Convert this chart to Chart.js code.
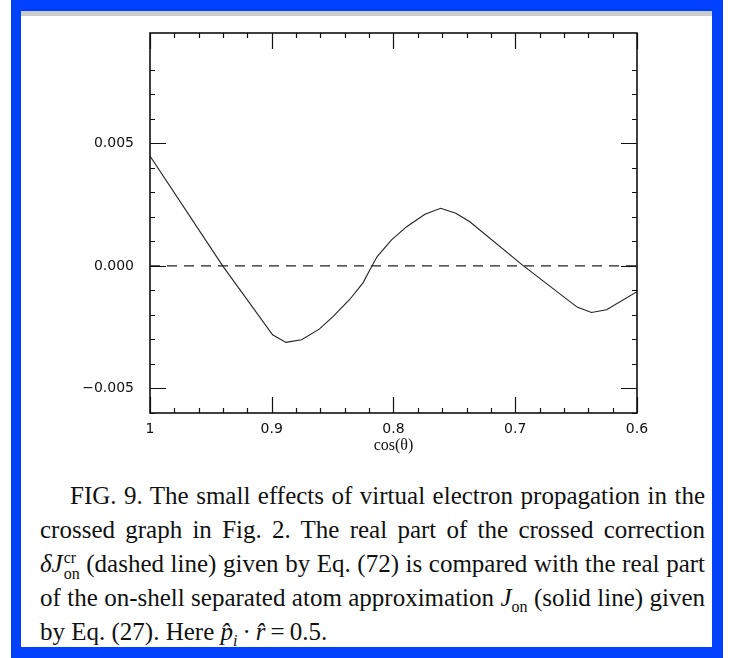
<!DOCTYPE html>
<html>
<head>
<meta charset="utf-8">
<script src="https://cdn.jsdelivr.net/npm/chart.js@4.4.0/dist/chart.umd.min.js"></script>
<style>
    html, body { margin: 0; padding: 0; background: #fff; }
    body { width: 735px; height: 658px; position: relative; overflow: hidden; }
    #frame { position: absolute; left: 11px; top: 0; width: 712px; height: 658px; background: #0040ff; }
    #panel { position: absolute; left: 21px; top: 11px; width: 691px; height: 631px; background: #fff; border-top: 5px solid #cccccc; }
    #chartBox { position: absolute; left: 40px; top: 20px; width: 620px; height: 440px; }
    #caption {
        position: absolute; left: 40px; top: 479px; width: 665px;
        font-family: "Liberation Serif", "Times New Roman", serif;
        font-size: 25px; line-height: 34px; color: #111;
    }
    .line { height: 34px; overflow: visible; text-align: justify; text-align-last: justify; word-spacing: -3px; }
    .line.first { text-indent: 30px; }
    .line.last { text-align: left; text-align-last: left; word-spacing: 0; }
    .it { font-style: italic; }
    .stack { display: inline-block; position: relative; width: 17px; height: 1px; text-indent: 0; }
    .stack span { position: absolute; left: 1px; font-size: 16px; line-height: 16px; word-spacing: 0; }
    .stack .sup { top: -21px; }
    .stack .lo { top: -5px; }
    .sub { font-size: 16px; position: relative; top: 6px; }
</style>
</head>
<body>
<div id="frame"></div>
<div id="panel"></div>
<div id="chartBox"><canvas id="chart"></canvas></div>
<div id="caption">
    <div class="line first">FIG. 9. The small effects of virtual electron propagation in the</div>
    <div class="line">crossed graph in Fig. 2. The real part of the crossed correction</div>
    <div class="line"><span class="it">&delta;J</span><span class="stack"><span class="sup">cr</span><span class="lo">on</span></span> (dashed line) given by Eq. (72) is compared with the real part</div>
    <div class="line">of the on-shell separated atom approximation <span class="it">J</span><span class="sub">on</span> (solid line) given</div>
    <div class="line last">by Eq. (27). Here <span class="it">p&#770;</span><span class="sub it">i</span>&thinsp;&middot;&thinsp;<span class="it">r&#770;</span>&thinsp;=&thinsp;0.5.</div>
</div>
<script>
// real part of J_on (solid line)
const cosTheta = [1.000, 0.9403, 0.8993, 0.8883, 0.8755, 0.8610, 0.8495, 0.8358, 0.8249, 0.8194, 0.8134,
    0.8016, 0.7892, 0.7742, 0.7613, 0.7488, 0.7373, 0.6935, 0.6492, 0.6374, 0.6250, 0.6000];
const jOn = [0.00448, 0.0, -0.00281, -0.00312, -0.00301, -0.00258, -0.00206, -0.00136, -0.00068, -0.00016, 0.00038,
    0.00106, 0.00160, 0.00211, 0.00235, 0.00215, 0.00180, 0.00001, -0.00168, -0.00190, -0.00179, -0.00105];

// crossed correction (dashed line)
const crossCos = [1.0, 0.6];
const crossCorr = [0.0, 0.0];

const xLabelValues = [1, 0.9, 0.8, 0.7, 0.6];
const xLabelText = ['1', '0.9', '0.8', '0.7', '0.6'];
const yLabelValues = [0.005, 0, -0.005];
const yLabelText = ['0.005', '0.000', '\u22120.005'];

function near(a, b) {
    return Math.abs(a - b) < 1e-7;
}

function isMultiple(v, step) {
    const r = v / step;
    return Math.abs(r - Math.round(r)) < 1e-6;
}

function labelFor(value, values, texts) {
    const i = values.findIndex(v => near(v, value));
    return i >= 0 ? texts[i] : '';
}

// tick marks point into the plot, on all four sides, plus the box itself
const innerTicks = {
    id: 'innerTicks',
    afterDatasetsDraw(chart) {
        const { ctx, chartArea: a, scales: { x, y } } = chart;
        ctx.save();
        ctx.strokeStyle = '#111';
        ctx.lineWidth = 1.2;
        ctx.beginPath();
        x.ticks.forEach(t => {
            if (!isMultiple(t.value, 0.02)) return;
            const px = Math.round(x.getPixelForValue(t.value)) + 0.5;
            const len = isMultiple(t.value, 0.1) ? 16 : 5;
            ctx.moveTo(px, a.bottom);
            ctx.lineTo(px, a.bottom - len);
            ctx.moveTo(px, a.top);
            ctx.lineTo(px, a.top + len);
        });
        y.ticks.forEach(t => {
            if (!isMultiple(t.value, 0.001)) return;
            const py = Math.round(y.getPixelForValue(t.value)) + 0.5;
            const len = isMultiple(t.value, 0.005) ? 16 : 5;
            ctx.moveTo(a.left, py);
            ctx.lineTo(a.left + len, py);
            ctx.moveTo(a.right, py);
            ctx.lineTo(a.right - len, py);
        });
        ctx.stroke();
        ctx.lineWidth = 1.6;
        ctx.strokeRect(a.left, a.top, a.width, a.height);
        ctx.restore();
    }
};

const ctx = document.getElementById('chart').getContext('2d');

const chart = new Chart(ctx, {
    type: 'line',
    data: {
        datasets: [{
            label: 'J_on',
            data: cosTheta.map((c, i) => ({ x: c, y: jOn[i] })),
            borderColor: '#222',
            borderWidth: 1.1,
            pointRadius: 0,
            tension: 0,
            fill: false
        }, {
            label: 'delta J_on^cr',
            data: crossCos.map((c, i) => ({ x: c, y: crossCorr[i] })),
            borderColor: '#222',
            borderWidth: 1.4,
            borderDash: [10, 7],
            pointRadius: 0,
            fill: false
        }]
    },
    options: {
        responsive: true,
        maintainAspectRatio: false,
        animation: false,
        layout: { padding: { left: 0, top: 13, right: 23, bottom: 0 } },
        plugins: {
            legend: { display: false },
            tooltip: { enabled: false }
        },
        scales: {
            x: {
                type: 'linear',
                reverse: true,
                min: 0.6,
                max: 1,
                afterFit: scale => {
                    scale.height = 47;
                    scale.paddingLeft = 0;
                    scale.paddingRight = 0;
                },
                grid: { display: false, drawTicks: false },
                border: { display: false },
                ticks: {
                    stepSize: 0.02,
                    autoSkip: false,
                    maxRotation: 0,
                    padding: 8,
                    color: '#111',
                    font: { family: 'DejaVu Sans', size: 14 },
                    callback: value => labelFor(value, xLabelValues, xLabelText)
                },
                title: {
                    display: true,
                    text: 'cos(\u03b8)',
                    color: '#111',
                    padding: { top: 0, bottom: 5 },
                    font: { family: 'Liberation Serif', size: 16 }
                }
            },
            y: {
                min: -0.006,
                max: 0.0095,
                afterFit: scale => {
                    scale.width = 110;
                    scale.paddingTop = 0;
                    scale.paddingBottom = 0;
                },
                grid: { display: false, drawTicks: false },
                border: { display: false },
                ticks: {
                    stepSize: 0.001,
                    autoSkip: false,
                    padding: 16,
                    color: '#111',
                    font: { family: 'DejaVu Sans', size: 14 },
                    callback: value => labelFor(value, yLabelValues, yLabelText)
                }
            }
        }
    },
    plugins: [innerTicks]
});
</script>
</body>
</html>
